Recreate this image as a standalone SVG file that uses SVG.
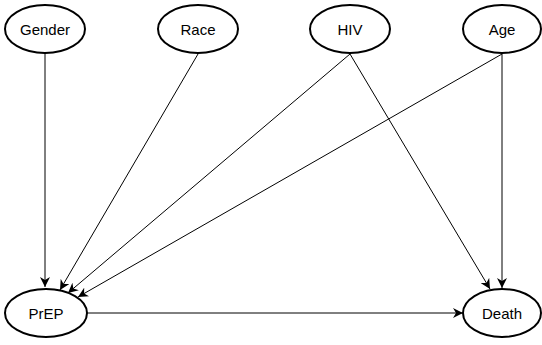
<svg xmlns="http://www.w3.org/2000/svg" width="542" height="345" viewBox="0 0 542 345">
<style>
.n ellipse{fill:#fff;stroke:#000;stroke-width:2}
.n text{font-family:"Liberation Sans",Arial,sans-serif;font-size:15px;text-anchor:middle;dominant-baseline:central;fill:#000}
.e line{stroke:#000;stroke-width:1}
</style>
<defs>
<marker id="a" viewBox="0 0 10 10" refX="10" refY="5" markerWidth="10" markerHeight="10" markerUnits="userSpaceOnUse" orient="auto">
<path d="M0,0 L10,5 L0,10 L3,5 Z" fill="#000"/>
</marker>
</defs>
<rect width="542" height="345" fill="#fff"/>
<g class="e">
<line x1="45" y1="54" x2="45" y2="287" marker-end="url(#a)"/>
<line x1="198" y1="54" x2="60" y2="290" marker-end="url(#a)"/>
<line x1="350" y1="54" x2="68" y2="293" marker-end="url(#a)"/>
<line x1="502" y1="54" x2="78" y2="297" marker-end="url(#a)"/>
<line x1="350" y1="54" x2="490" y2="289" marker-end="url(#a)"/>
<line x1="502" y1="54" x2="502" y2="288" marker-end="url(#a)"/>
<line x1="86" y1="313" x2="463" y2="313" marker-end="url(#a)"/>
</g>
<g id="gender" class="n"><ellipse cx="45" cy="29" rx="40" ry="24"/><text x="45" y="29">Gender</text></g>
<g id="race" class="n"><ellipse cx="198" cy="29" rx="40" ry="24"/><text x="198" y="29">Race</text></g>
<g id="hiv" class="n"><ellipse cx="350" cy="29" rx="40" ry="24"/><text x="350" y="29">HIV</text></g>
<g id="age" class="n"><ellipse cx="502" cy="29" rx="39" ry="24"/><text x="502" y="29">Age</text></g>
<g id="prep" class="n"><ellipse cx="46" cy="313" rx="41" ry="24"/><text x="46" y="313">PrEP</text></g>
<g id="death" class="n"><ellipse cx="502" cy="313" rx="39" ry="24"/><text x="502" y="313">Death</text></g>
</svg>
